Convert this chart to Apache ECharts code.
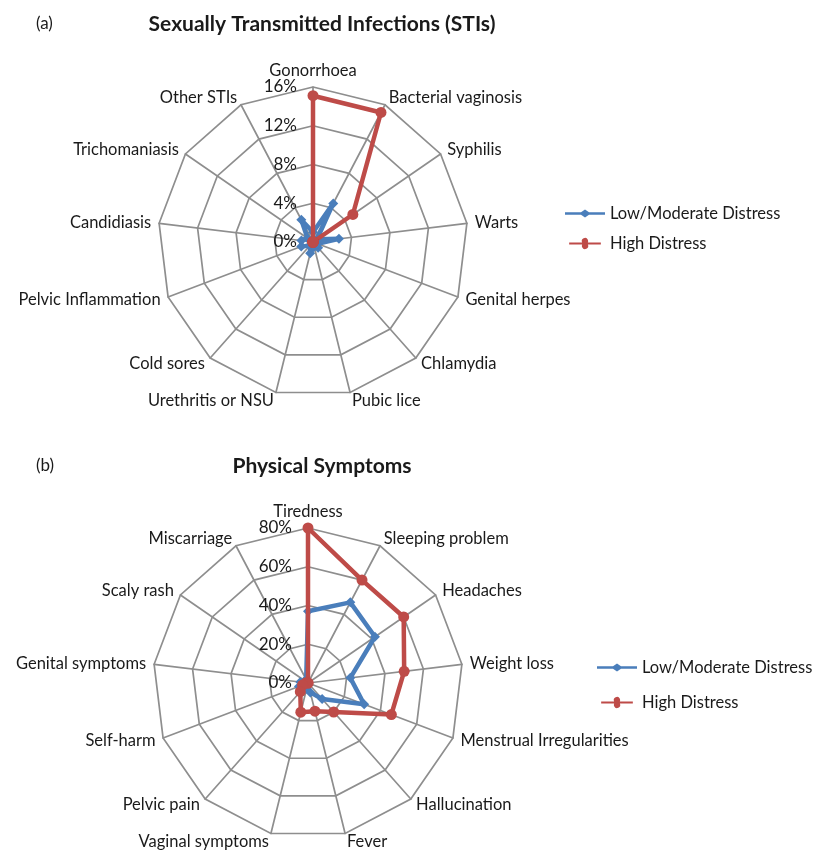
<!DOCTYPE html>
<html><head><meta charset="utf-8">
<script src="https://cdn.jsdelivr.net/npm/echarts@6/dist/echarts.min.js"></script>
<style>html,body{margin:0;padding:0;background:#fff}#c{width:816px;height:850px}</style>
</head><body><div id="c"></div>
<script>
// ---- Data (listed clockwise from top) ----
const stiCategories = ['Gonorrhoea','Bacterial vaginosis','Syphilis','Warts','Genital herpes','Chlamydia','Pubic lice','Urethritis or NSU','Cold sores','Pelvic Inflammation','Candidiasis','Trichomaniasis','Other STIs'];
const stiLow  = [1.0, 4.5, 0.5, 2.7, 0.5, 0.8, 0.5, 1.2, 0.5, 1.3, 1.2, 0.7, 2.6];
const stiHigh = [15.1, 15.1, 5.0, 0, 0, 0, 0, 0, 0, 0, 0, 0, 0];
const stiTicks = [0, 4, 8, 12, 16];

const symCategories = ['Tiredness','Sleeping problem','Headaches','Weight loss','Menstrual Irregularities','Hallucination','Fever','Vaginal symptoms','Pelvic pain','Self-harm','Genital symptoms','Scaly rash','Miscarriage'];
const symLow  = [37, 47, 42, 22, 31, 11, 5, 3, 6, 5, 4, 2, 2];
const symHigh = [80, 60, 60, 50, 46, 20, 15, 15.5, 6, 3, 1, 0, 0];
const symTicks = [0, 20, 40, 60, 80];

const seriesNames = ['Low/Moderate Distress', 'High Distress'];

// ECharts radar goes counter-clockwise; reorder so display is clockwise
function cw(arr){ return [arr[0]].concat(arr.slice(1).reverse()); }

const BLUE = '#4a7ebb', RED = '#be4b48';
const GRID = '#8e8e8e';
const FONT = 'Lato';
const TXT = '#1a1a1a';

function radarCfg(center, cats, max){
  return {
    center: center, radius: 155, startAngle: 90, shape: 'polygon', splitNumber: 4,
    indicator: cw(cats).map(n => ({name: n, min: 0, max: max})),
    axisName: {color: TXT, fontSize: 16.5, fontFamily: FONT},
    nameGap: 8,
    splitLine: {lineStyle: {color: GRID, width: 1.7}},
    axisLine: {lineStyle: {color: GRID, width: 1.7}},
    splitArea: {show: false}
  };
}

const chart = echarts.init(document.getElementById('c'), null, {renderer: 'canvas'});
const lowIcon = 'path://M0,4L24,4L30,0L36,4L60,4L60,8L36,8L30,12L24,8L0,8Z';
const highIcon = 'path://M0,4.2L24.6,4.2A6,6 0 1 1 35.4,4.2L60,4.2L60,7.8L35.4,7.8A6,6 0 1 1 24.6,7.8L0,7.8Z';

function legendCfg(left, top, gap){
  return {
    orient: 'vertical', left: left, top: top, padding: 0, itemGap: gap, itemWidth: 40, itemHeight: 11,
    textStyle: {fontSize: 16.5, color: TXT, fontFamily: FONT},
    selectedMode: false,
    data: [{name: seriesNames[0], icon: lowIcon}, {name: seriesNames[1], icon: highIcon}]
  };
}

function radiusAxisCfg(idx, ticks){
  return {
    polarIndex: idx, type: 'value', min: ticks[0], max: ticks[ticks.length-1], interval: ticks[1]-ticks[0],
    axisLine: {show: false}, axisTick: {show: false}, splitLine: {show: false},
    axisLabel: {formatter: '{value}%', fontSize: 17, color: TXT, fontFamily: FONT, margin: 16}
  };
}

function seriesPair(radarIndex, low, high){
  return [
    {type: 'radar', radarIndex: radarIndex, name: seriesNames[0], symbol: 'diamond', symbolSize: 10,
     itemStyle: {color: BLUE}, lineStyle: {color: BLUE, width: 4.5}, z: 2,
     data: [{name: seriesNames[0], value: cw(low)}]},
    {type: 'radar', radarIndex: radarIndex, name: seriesNames[1], symbol: 'circle', symbolSize: 11,
     itemStyle: {color: RED}, lineStyle: {color: RED, width: 4.5}, z: 3,
     data: [{name: seriesNames[1], value: cw(high)}]}
  ];
}

chart.setOption({
  animation: false,
  title: [
    {text: '(a)', left: 36, top: 15, padding: 0, textStyle: {fontSize: 17, fontWeight: 'normal', color: TXT, fontFamily: FONT}},
    {text: 'Sexually Transmitted Infections (STIs)', left: 322, top: 14, padding: 0, textAlign: 'center', textStyle: {fontSize: 21, fontWeight: 'bold', color: TXT, fontFamily: FONT}},
    {text: '(b)', left: 36, top: 457, padding: 0, textStyle: {fontSize: 17, fontWeight: 'normal', color: TXT, fontFamily: FONT}},
    {text: 'Physical Symptoms', left: 322, top: 456, padding: 0, textAlign: 'center', textStyle: {fontSize: 21, fontWeight: 'bold', color: TXT, fontFamily: FONT}}
  ],
  legend: [legendCfg(565, 205, 13), legendCfg(597, 659, 18)],
  radar: [radarCfg([313, 242], stiCategories, 16), radarCfg([308, 683], symCategories, 80)],
  polar: [{center: [313, 242], radius: 155}, {center: [308, 683], radius: 155}],
  angleAxis: [
    {polarIndex: 0, type: 'value', startAngle: 90, min: 0, max: 360, show: false},
    {polarIndex: 1, type: 'value', startAngle: 90, min: 0, max: 360, show: false}
  ],
  radiusAxis: [radiusAxisCfg(0, stiTicks), radiusAxisCfg(1, symTicks)],
  series: seriesPair(0, stiLow, stiHigh).concat(seriesPair(1, symLow, symHigh))
});
</script>
</body></html>
